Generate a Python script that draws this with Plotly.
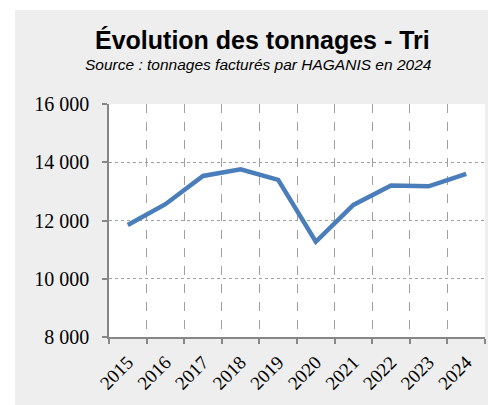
import plotly.graph_objects as go

years = ["2015", "2016", "2017", "2018", "2019", "2020", "2021", "2022", "2023", "2024"]
tonnages = [11845, 12560, 13530, 13760, 13395, 11270, 12535, 13200, 13175, 13600]
y_ticks = [8000, 10000, 12000, 14000, 16000]
y_tick_labels = ["8 000", "10 000", "12 000", "14 000", "16 000"]

# the page body has a default 8px margin; figure is sized so that it fills the window
OFF = 8
W, H = 496 - OFF, 405 - OFF
L, R, T, B = 109 - OFF, 11, 104 - OFF, 68
pw, ph = W - L - R, H - T - B

def px(x_page):
    return (x_page - OFF - L) / pw

def py(y_page):
    return (H - B - (y_page - OFF)) / ph

fig = go.Figure()
fig.add_trace(go.Scatter(
    x=years, y=tonnages, mode="lines",
    line=dict(color="#4a7ebb", width=4.5),
    hoverinfo="skip", showlegend=False,
))

axis_col = "#868686"
grid_col = "#a0a0a0"
tick_font = dict(family="Liberation Serif, serif", size=19, color="#000000")
ytick_font = dict(family="Liberation Serif, serif", size=20, color="#000000")

fig.update_layout(
    width=W, height=H,
    margin=dict(l=L, r=R, t=T, b=B, pad=0, autoexpand=False),
    paper_bgcolor="#eeeeee",
    plot_bgcolor="#ffffff",
    xaxis=dict(
        type="category", range=[-0.5, 9.5], automargin=False,
        tickson="boundaries", ticks="outside", ticklen=5, tickcolor=axis_col, tickwidth=1.5,
        showline=True, linecolor=axis_col, linewidth=1.5,
        showgrid=True, gridcolor=grid_col, gridwidth=1, griddash="dash",
        tickangle=-45, tickfont=tick_font, ticklabelstandoff=5,
        zeroline=False, fixedrange=True,
    ),
    yaxis=dict(
        range=[8000, 16000], automargin=False,
        tickvals=y_ticks, ticktext=y_tick_labels,
        ticks="outside", ticklen=5, tickcolor=axis_col, tickwidth=1.5,
        showline=True, linecolor=axis_col, linewidth=1.5,
        showgrid=True, gridcolor=grid_col, gridwidth=1, griddash="dot",
        tickfont=ytick_font, ticklabelstandoff=9,
        zeroline=False, fixedrange=True,
    ),
    shapes=[
        dict(type="rect", xref="paper", yref="paper", x0=px(-20), x1=px(15), y0=py(H + 50), y1=py(-50),
             fillcolor="#ffffff", line=dict(width=0), layer="below"),
        dict(type="rect", xref="paper", yref="paper", x0=px(-20), x1=px(W + 50), y0=py(10), y1=py(-50),
             fillcolor="#ffffff", line=dict(width=0), layer="below"),
    ],
    annotations=[
        dict(text="<b>Évolution des tonnages - Tri</b>", xref="paper", yref="paper",
             x=px(262), y=py(40), xanchor="center", yanchor="middle", showarrow=False,
             font=dict(family="Liberation Sans, Arial, sans-serif", size=25, color="#000000")),
        dict(text="<i>Source : tonnages facturés par HAGANIS en 2024</i>", xref="paper", yref="paper",
             x=px(258), y=py(64), xanchor="center", yanchor="middle", showarrow=False,
             font=dict(family="Liberation Sans, Arial, sans-serif", size=15.5, color="#000000")),
    ],
)

fig.write_html("out.html")
